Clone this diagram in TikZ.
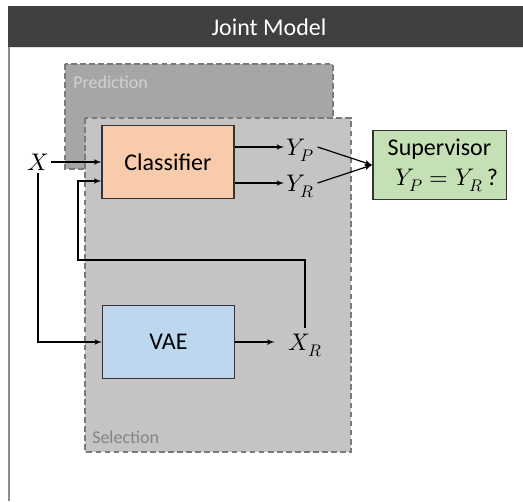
\documentclass[tikz,border=0pt]{standalone}
\usepackage{fontspec}
\setmainfont{Carlito}
\usepackage{unicode-math}
\setmathfont{Latin Modern Math}
\usepackage{tikz}
\usetikzlibrary{arrows, positioning, calc}
\usepackage{xcolor}

\definecolor{headgray}{HTML}{404040}
\definecolor{framegray}{HTML}{8C8C8C}
\definecolor{predfill}{HTML}{A6A6A6}
\definecolor{selfill}{HTML}{C5C3C4}
\definecolor{areaedge}{HTML}{7A7A7A}
\definecolor{clsfill}{HTML}{F8CBAD}
\definecolor{vaefill}{HTML}{BDD7EE}
\definecolor{supfill}{HTML}{C5E0B4}

\begin{document}
\begin{tikzpicture}[
    x=0.75pt, y=-0.75pt,
    block/.style={rectangle, draw=black!80, line width=1pt, align=center, font=\fontsize{18}{22.5}\selectfont, minimum width=99pt, minimum height=55pt},
    area/.style={draw=areaedge, dash pattern=on 4.3pt off 2.5pt, line width=1.1pt},
    areatext/.style={anchor=base west, inner sep=0pt, font=\fontsize{13.5}{16}\selectfont},
    sym/.style={font=\fontsize{18}{22}\selectfont, text depth=0pt, inner sep=2pt},
    arrow/.style={-latex', line width=0.9pt}
]
    \useasboundingbox (0,0) rectangle (523,501);

    % frame and title bar
    \fill[headgray] (8,6) rectangle (523,47);
    \draw[black!12, line width=1pt] (9,47.5) -- (523,47.5);
    \draw[framegray, line width=1.2pt] (9,47) -- (9,501);
    \node[text=white, font=\fontsize{18}{22}\selectfont] (title) at (269,27) {Joint Model};

    % the two stages
    \filldraw[area, fill=predfill] (65,64) rectangle (333,169);
    \node[areatext, text=black!18] (predlbl) at (73,88) {Prediction};
    \filldraw[area, fill=selfill] (85,118) rectangle (351,452);
    \node[areatext, text=black!48] (sellbl) at (92,443) {Selection};

    \node[block, fill=clsfill] (cls) at (168,162) {Classifier};
    \node[block, fill=vaefill] (vae) at (168.5,342) {VAE};
    \node[block, fill=supfill, minimum width=100pt, minimum height=52pt] (sup) at (439.5,165) {Supervisor\\\hspace*{0.6em}$Y_P = Y_R$\,?};

    \node[sym] (x) at (38,162) {$X$};
    \node[sym, anchor=west] (yp) at (284,147) {$Y_P$};
    \node[sym, anchor=west] (yr) at (284,183) {$Y_R$};
    \node[sym, inner xsep=10pt, inner ysep=4pt] (xr) at (305,342) {$X_R$};

    \coordinate (loop) at (78,260);
    \coordinate (fb) at (102,181);

    \draw[arrow] (x) -- (cls.west);
    \draw[arrow] (cls.east |- yp) -- (yp);
    \draw[arrow] (cls.east |- yr) -- (yr);
    \draw[arrow] (yp.east) -- (sup.west);
    \draw[arrow] (yr.east) -- (sup.west);
    \draw[arrow] (x.south) |- (vae.west);
    \draw[arrow] (vae.east) -- (xr.west);
    \draw[arrow] (xr.north) |- (loop) |- (cls.west |- fb);
\end{tikzpicture}
\end{document}
